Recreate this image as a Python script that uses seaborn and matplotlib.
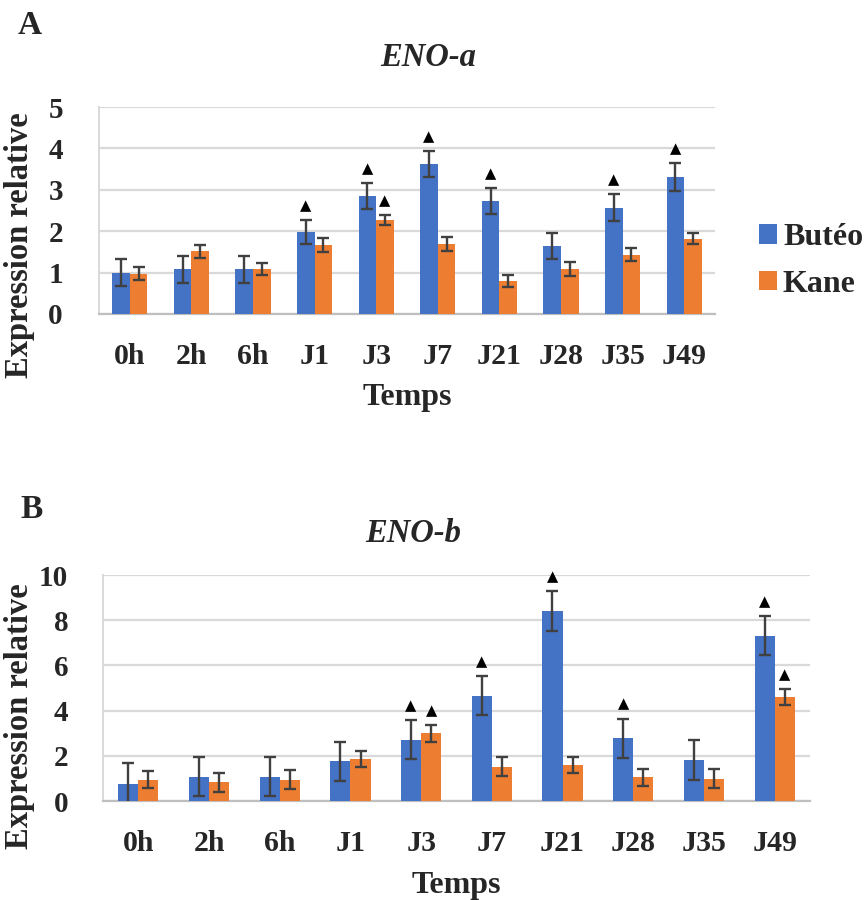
import numpy as np
import pandas as pd
import matplotlib
matplotlib.use("Agg")
import matplotlib.pyplot as plt
import seaborn as sns
from matplotlib.patches import Patch

# ---------------- data ----------------
categories = ["0h", "2h", "6h", "J1", "J3", "J7", "J21", "J28", "J35", "J49"]
varieties = ["Butéo", "Kane"]

a_buteo = [1.00, 1.08, 1.08, 1.98, 2.85, 3.62, 2.73, 1.64, 2.57, 3.31]
a_buteo_err = [0.32, 0.33, 0.33, 0.29, 0.32, 0.32, 0.32, 0.31, 0.32, 0.33]
a_kane = [0.97, 1.51, 1.08, 1.67, 2.27, 1.70, 0.80, 1.08, 1.43, 1.82]
a_kane_err = [0.16, 0.15, 0.14, 0.17, 0.13, 0.17, 0.14, 0.17, 0.16, 0.14]
a_sig_buteo = ["J1", "J3", "J7", "J21", "J35", "J49"]
a_sig_kane = ["J3"]

b_buteo = [0.77, 1.07, 1.07, 1.75, 2.72, 4.66, 8.41, 2.78, 1.80, 7.32]
b_buteo_err = [0.89, 0.86, 0.86, 0.87, 0.86, 0.87, 0.88, 0.87, 0.88, 0.87]
b_kane = [0.95, 0.83, 0.95, 1.86, 3.00, 1.52, 1.58, 1.05, 0.99, 4.60]
b_kane_err = [0.37, 0.43, 0.43, 0.37, 0.37, 0.42, 0.36, 0.37, 0.43, 0.37]
b_sig_buteo = ["J3", "J7", "J21", "J28", "J49"]
b_sig_kane = ["J3", "J49"]

y_ticks_a = [0, 1, 2, 3, 4, 5]
y_ticks_b = [0, 2, 4, 6, 8, 10]

# ---------------- style ----------------
sns.set_theme(style="white")
plt.rcParams["font.family"] = ["Liberation Serif", "DejaVu Sans"]
plt.rcParams["font.weight"] = "bold"

BLUE = "#4472C4"
ORANGE = "#ED7D31"
palette = {"Butéo": BLUE, "Kane": ORANGE}
ERR_COLOR = "#404040"
GRID = "#d9d9d9"

W, H = 867, 900
fig = plt.figure(figsize=(W / 100, H / 100), dpi=100)


def fx(px):
    return px / W


def fy(py):
    return 1 - py / H


def panel(rect_px, buteo, buteo_err, kane, kane_err, sig_b, sig_k, yticks,
          label_y_center, temps_y, ypad):
    left, top, right, bottom = rect_px
    ax = fig.add_axes([fx(left), fy(bottom), fx(right) - fx(left), fy(top) - fy(bottom)])
    df = pd.DataFrame({
        "Temps": categories * 2,
        "Variete": [varieties[0]] * len(categories) + [varieties[1]] * len(categories),
        "Expression": list(buteo) + list(kane),
    })
    sns.barplot(data=df, x="Temps", y="Expression", hue="Variete", order=categories,
                hue_order=varieties, palette=palette, errorbar=None, width=0.57,
                saturation=1, linewidth=0, ax=ax, legend=False, zorder=3)
    errs = [buteo_err, kane_err]
    vals = [buteo, kane]
    sigs = [sig_b, sig_k]
    bar_containers = list(ax.containers)
    for k, cont in enumerate(bar_containers):
        xs = [p.get_x() + p.get_width() / 2 for p in cont.patches]
        ax.errorbar(xs, vals[k], yerr=errs[k], fmt="none", ecolor=ERR_COLOR,
                    elinewidth=1.7, capsize=4.5, capthick=1.7, zorder=4)
        for i, c in enumerate(categories):
            if c in sigs[k]:
                ax.annotate("▲", xy=(xs[i], vals[k][i] + errs[k][i]),
                            xytext=(0, 5), textcoords="offset points",
                            ha="center", va="bottom", fontsize=10.5,
                            color="black", family=["DejaVu Sans"], zorder=5)
    ax.set_ylim(yticks[0], yticks[-1])
    ax.set_xlim(-0.5, len(categories) - 0.5)
    ax.set_yticks(yticks)
    ax.set_yticklabels([str(t) for t in yticks], fontsize=21, fontweight="bold")
    ax.set_xticks(range(len(categories)))
    ax.set_xticklabels(categories, fontsize=21.5, fontweight="bold")
    ax.tick_params(axis="both", length=0)
    ax.tick_params(axis="y", pad=ypad)
    ax.tick_params(axis="x", pad=21)
    ax.grid(axis="y", color=GRID, linewidth=1.6, zorder=0)
    ax.set_axisbelow(True)
    for s in ["top", "right"]:
        ax.spines[s].set_visible(False)
    ax.spines["left"].set_color(GRID)
    ax.spines["left"].set_linewidth(1.4)
    ax.spines["bottom"].set_color("#bfbfbf")
    ax.spines["bottom"].set_linewidth(1.6)

    ax.set_ylabel("Expression relative", fontsize=23.5, fontweight="bold")
    ax.yaxis.label.set(ha="center", va="center", rotation_mode="anchor")
    ax.yaxis.set_label_coords((20 - left) / (right - left),
                              (bottom - label_y_center) / (bottom - top))
    ax.set_xlabel("Temps", fontsize=23, fontweight="bold")
    ax.xaxis.label.set(ha="center", va="center")
    ax.xaxis.set_label_coords(0.5, (bottom - temps_y) / (bottom - top))
    return ax


axA = panel((99, 107, 715, 314), a_buteo, a_buteo_err, a_kane, a_kane_err,
            a_sig_buteo, a_sig_kane, y_ticks_a, 245, 398, 26)
axB = panel((103, 575, 810, 801), b_buteo, b_buteo_err, b_kane, b_kane_err,
            b_sig_buteo, b_sig_kane, y_ticks_b, 716, 885, 25)

# panel letters and titles
fig.text(fx(18), fy(26), "A", fontsize=24, fontweight="bold", ha="left", va="center")
fig.text(fx(20), fy(510), "B", fontsize=24, fontweight="bold", ha="left", va="center")
fig.text(fx(428), fy(57), "ENO-a", fontsize=23.5, fontweight="bold", style="italic",
         ha="center", va="center")
fig.text(fx(413), fy(534), "ENO-b", fontsize=23.5, fontweight="bold", style="italic",
         ha="center", va="center")

# legend
handles = [Patch(facecolor=palette[v], edgecolor="none", label=v) for v in varieties]
leg = fig.legend(handles=handles, loc="center left", bbox_to_anchor=(fx(759), fy(261)),
                 frameon=False, prop={"weight": "bold", "size": 23},
                 handlelength=0.55, handleheight=0.55, handletextpad=0.2,
                 labelspacing=0.55, borderpad=0, borderaxespad=0)

fig.savefig("out.png", dpi=100)
